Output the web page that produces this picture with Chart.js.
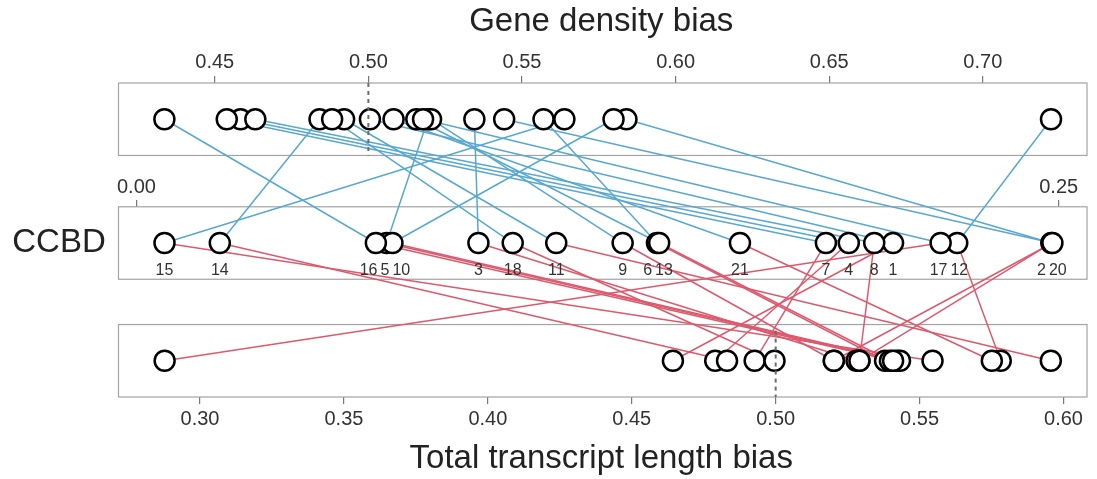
<!DOCTYPE html>
<html>
<head>
<meta charset="utf-8">
<script src="https://cdn.jsdelivr.net/npm/chart.js@4.4.0/dist/chart.umd.min.js"></script>
<style>
html, body { margin: 0; padding: 0; background: #fff; }
#wrap { width: 1097px; height: 479px; position: relative; }
</style>
</head>
<body>
<div id="wrap"><canvas id="chart"></canvas></div>
<script>
// ========================================
// Data
// ========================================

const ids = ["1","2","3","4","5","6","7","8","9","10","11","12","13","14","15","16","17","18","20","21"];

const geneDensity = [0.5005,0.5840,0.5345,0.4584,0.5194,0.5570,0.4539,0.4632,0.5204,0.5798,
                     0.4921,0.7222,0.5156,0.4841,0.5638,0.4336,0.5178,0.4882,0.5442,0.5082];

const ccbd = [0.2051,0.2480,0.0927,0.1931,0.0678,0.1411,0.1869,0.2000,0.1318,0.0694,
              0.1138,0.2225,0.1417,0.0226,0.0076,0.0649,0.2180,0.1020,0.2483,0.1636];

const transcriptLength = [0.4643,0.5291,0.5281,0.4790,0.5421,0.5380,0.4927,0.5291,0.5202,0.5432,
                          0.5956,0.5782,0.5397,0.4831,0.5545,0.5408,0.2877,0.4996,0.5202,0.5751];

const geneTicks = [0.45,0.50,0.55,0.60,0.65,0.70];
const ccbdTicks = [0.00,0.25];
const transcriptTicks = [0.30,0.35,0.40,0.45,0.50,0.55,0.60];

// ========================================
// Layout
// ========================================

const ROW_TOP = 2, ROW_MID = 0.975, ROW_BOT = 0, HALF = 0.3;
const FONT = "'Liberation Sans', Arial, Helvetica, sans-serif";

Chart.defaults.font.family = FONT;
Chart.defaults.color = "#333";

const tickFmt = v => Number(v).toFixed(2);

// spread overlapping labels side by side, centred on their points
function spreadLabels(items, gap) {
  items.sort((a, b) => a.x - b.x);
  let groups = items.map(it => ({ items: [it], width: it.w, center: it.x }));
  let merged = true;
  while (merged) {
    merged = false;
    for (let k = 0; k < groups.length - 1; k++) {
      const a = groups[k], b = groups[k + 1];
      if (a.center + a.width / 2 + gap > b.center - b.width / 2) {
        const all = a.items.concat(b.items);
        groups.splice(k, 2, {
          items: all,
          width: a.width + gap + b.width,
          center: all.reduce((s, it) => s + it.x, 0) / all.length
        });
        merged = true;
        break;
      }
    }
  }
  groups.forEach(g => {
    let left = g.center - g.width / 2;
    g.items.forEach(it => { it.cx = left + it.w / 2; left += it.w + gap; });
  });
  return items;
}

const panelPlugin = {
  id: "panels",
  beforeDatasetsDraw(chart) {
    const { ctx, chartArea, scales } = chart;
    const y = scales.y;
    ctx.save();

    // panel boxes
    ctx.strokeStyle = "#a3a3a3";
    ctx.lineWidth = 1.2;
    [ROW_TOP, ROW_MID, ROW_BOT].forEach(r => {
      const y1 = y.getPixelForValue(r + HALF);
      const y2 = y.getPixelForValue(r - HALF);
      ctx.strokeRect(chartArea.left + 0.5, y1, chartArea.right - chartArea.left + 2, y2 - y1);
    });

    // links between the rows
    ctx.lineWidth = 1.5;
    const yt = y.getPixelForValue(ROW_TOP);
    const ym = y.getPixelForValue(ROW_MID);
    const yb = y.getPixelForValue(ROW_BOT);
    ids.forEach((id, i) => {
      const xt = scales.xTop.getPixelForValue(geneDensity[i]);
      const xm = scales.xMid.getPixelForValue(ccbd[i]);
      const xb = scales.xBot.getPixelForValue(transcriptLength[i]);
      ctx.strokeStyle = "#58a8d0";
      ctx.beginPath(); ctx.moveTo(xt, yt); ctx.lineTo(xm, ym); ctx.stroke();
      ctx.strokeStyle = "#dc5a6e";
      ctx.beginPath(); ctx.moveTo(xm, ym); ctx.lineTo(xb, yb); ctx.stroke();
    });
    ctx.restore();
  },
  afterDatasetsDraw(chart) {
    const { ctx, chartArea, scales } = chart;
    const y = scales.y;
    ctx.save();

    // dashed 0.50 reference lines
    ctx.strokeStyle = "#6b6b6b";
    ctx.lineWidth = 2;
    ctx.setLineDash([4, 4]);
    const xg = scales.xTop.getPixelForValue(0.5);
    ctx.beginPath();
    ctx.moveTo(xg, y.getPixelForValue(ROW_TOP + HALF));
    ctx.lineTo(xg, y.getPixelForValue(ROW_TOP - HALF));
    ctx.stroke();
    const xl = scales.xBot.getPixelForValue(0.5);
    ctx.beginPath();
    ctx.moveTo(xl, y.getPixelForValue(ROW_BOT + HALF) + 6);
    ctx.lineTo(xl, y.getPixelForValue(ROW_BOT - HALF));
    ctx.stroke();
    ctx.setLineDash([]);

    // point labels under the CCBD row
    ctx.font = "16px " + FONT;
    ctx.fillStyle = "#333";
    ctx.textAlign = "center";
    ctx.textBaseline = "middle";
    const items = ids.map((id, i) => ({
      id,
      x: scales.xMid.getPixelForValue(ccbd[i]),
      w: ctx.measureText(id).width
    }));
    const ly = y.getPixelForValue(ROW_MID) + 28;
    spreadLabels(items, 3).forEach(it => ctx.fillText(it.id, it.cx, ly));

    // row title
    ctx.font = "33px " + FONT;
    ctx.fillStyle = "#222";
    ctx.fillText("CCBD", chartArea.left / 2, y.getPixelForValue(ROW_MID));
    ctx.restore();
  }
};

// ========================================
// Chart
// ========================================

const rowPoints = (values, row) => values.map(v => ({ x: v, y: row }));

const pointStyle = {
  showLine: false,
  pointRadius: 10,
  pointHoverRadius: 10,
  pointBorderWidth: 2.5,
  pointBorderColor: "#000",
  pointBackgroundColor: "#fff",
  yAxisID: "y"
};

new Chart(document.getElementById("chart"), {
  type: "scatter",
  data: {
    datasets: [
      Object.assign({ label: "Gene density bias", data: rowPoints(geneDensity, ROW_TOP), xAxisID: "xTop" }, pointStyle),
      Object.assign({ label: "CCBD", data: rowPoints(ccbd, ROW_MID), xAxisID: "xMid" }, pointStyle),
      Object.assign({ label: "Total transcript length bias", data: rowPoints(transcriptLength, ROW_BOT), xAxisID: "xBot" }, pointStyle)
    ]
  },
  options: {
    responsive: true,
    maintainAspectRatio: false,
    animation: false,
    events: [],
    layout: { padding: { left: 118, right: 0, top: 0, bottom: 0 } },
    plugins: { legend: { display: false }, tooltip: { enabled: false } },
    scales: {
      y: { type: "linear", min: ROW_BOT - HALF, max: ROW_TOP + HALF, display: false },
      xTop: {
        type: "linear",
        position: "top",
        min: 0.4185,
        max: 0.7331,
        afterBuildTicks: s => { s.ticks = geneTicks.map(v => ({ value: v })); },
        afterFit: s => { s.height = 83; },
        grid: { drawOnChartArea: false, tickLength: 7, color: "#777", lineWidth: 1.2 },
        border: { display: false },
        ticks: { padding: 2, font: { size: 20 }, color: "#333", maxRotation: 0, callback: tickFmt },
        title: { display: true, text: "Gene density bias", font: { size: 33 }, color: "#222", padding: { top: 2, bottom: 0 } }
      },
      xMid: {
        type: "linear",
        position: { y: ROW_MID + HALF },
        min: -0.005,
        max: 0.257,
        afterBuildTicks: s => { s.ticks = ccbdTicks.map(v => ({ value: v })); },
        grid: { drawOnChartArea: false, tickLength: -7, color: "#777", lineWidth: 1.2 },
        border: { display: false },
        ticks: { padding: -24, font: { size: 20 }, color: "#333", maxRotation: 0, callback: tickFmt }
      },
      xBot: {
        type: "linear",
        position: "bottom",
        min: 0.2715,
        max: 0.6073,
        afterBuildTicks: s => { s.ticks = transcriptTicks.map(v => ({ value: v })); },
        afterFit: s => { s.height = 82; },
        grid: { drawOnChartArea: false, tickLength: 7, color: "#777", lineWidth: 1.2 },
        border: { display: false },
        ticks: { padding: 3, font: { size: 20 }, color: "#333", maxRotation: 0, callback: tickFmt },
        title: { display: true, text: "Total transcript length bias", font: { size: 33 }, color: "#222", padding: { top: 0, bottom: 0 } }
      }
    }
  },
  plugins: [panelPlugin]
});
</script>
</body>
</html>
